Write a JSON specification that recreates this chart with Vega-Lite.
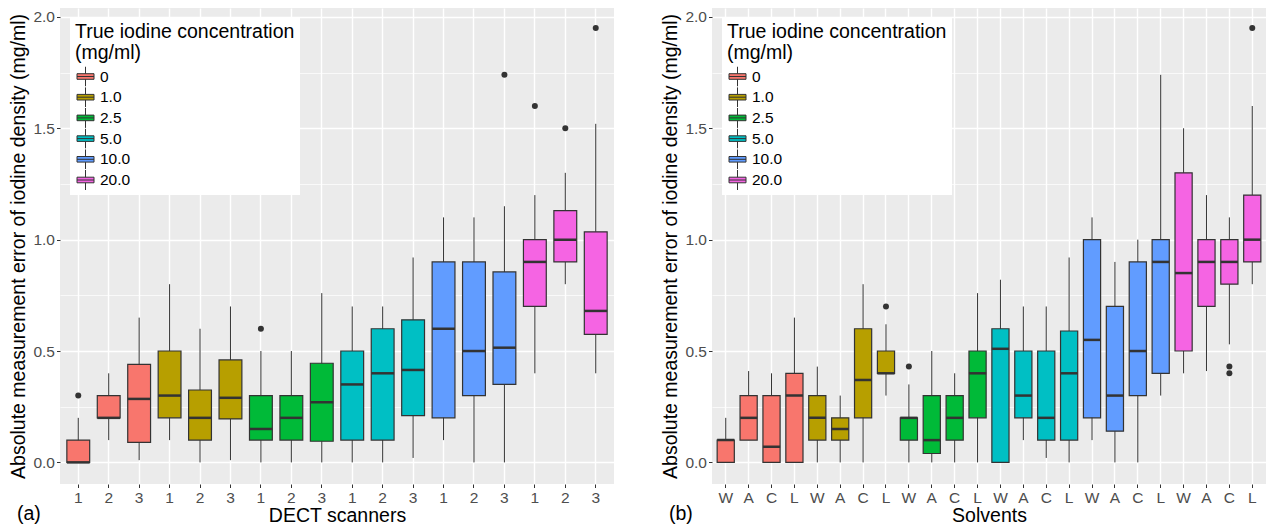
{
  "$schema": "https://vega.github.io/schema/vega-lite/v6.json",
  "padding": {"left": 8, "top": 8, "right": 6, "bottom": 0},
  "background": "#FFFFFF",
  "config": {
    "font": "Liberation Sans",
    "view": {"fill": "#EBEBEB", "stroke": null},
    "axis": {
      "domain": false,
      "labelFontSize": 15.5,
      "labelColor": "#4D4D4D",
      "labelPadding": 2,
      "tickColor": "#333333",
      "tickSize": 3.5,
      "tickWidth": 1,
      "titleFontSize": 19.5,
      "titleFontWeight": "normal",
      "titleColor": "#000000",
      "gridColor": "#FFFFFF"
    },
    "legend": {
      "orient": "top-left", "offset": 10, "fillColor": "#FFFFFF", "padding": 5,
      "titleFontSize": 19.5, "titleFontWeight": "normal", "titleColor": "#000000", "titleLineHeight": 21, "titlePadding": 3, "titleLimit": 400,
      "labelFontSize": 15.5, "labelColor": "#000000", "labelOffset": 4,
      "symbolSize": 400, "symbolStrokeColor": "#333333", "symbolStrokeWidth": 1, "symbolOpacity": 1,
      "clipHeight": 20, "rowPadding": 0.7
    },
    "title": {"fontSize": 19.5, "fontWeight": "normal", "color": "#000000"},
    "concat": {"spacing": 46}
  },
  "datasets": {
    "scanners": [
      {"box": "0-1", "conc": "0", "lo": 0, "q1": 0, "med": 0, "q3": 0.1, "hi": 0.2, "out1": 0.3, "out2": null},
      {"box": "0-2", "conc": "0", "lo": 0.1, "q1": 0.2, "med": 0.2, "q3": 0.3, "hi": 0.4, "out1": null, "out2": null},
      {"box": "0-3", "conc": "0", "lo": 0.01, "q1": 0.09, "med": 0.285, "q3": 0.44, "hi": 0.65, "out1": null, "out2": null},
      {"box": "1.0-1", "conc": "1.0", "lo": 0.1, "q1": 0.2, "med": 0.3, "q3": 0.5, "hi": 0.8, "out1": null, "out2": null},
      {"box": "1.0-2", "conc": "1.0", "lo": 0, "q1": 0.1, "med": 0.2, "q3": 0.325, "hi": 0.6, "out1": null, "out2": null},
      {"box": "1.0-3", "conc": "1.0", "lo": 0.01, "q1": 0.195, "med": 0.29, "q3": 0.46, "hi": 0.7, "out1": null, "out2": null},
      {"box": "2.5-1", "conc": "2.5", "lo": 0, "q1": 0.1, "med": 0.15, "q3": 0.3, "hi": 0.5, "out1": 0.6, "out2": null},
      {"box": "2.5-2", "conc": "2.5", "lo": 0, "q1": 0.1, "med": 0.2, "q3": 0.3, "hi": 0.5, "out1": null, "out2": null},
      {"box": "2.5-3", "conc": "2.5", "lo": 0, "q1": 0.095, "med": 0.27, "q3": 0.445, "hi": 0.76, "out1": null, "out2": null},
      {"box": "5.0-1", "conc": "5.0", "lo": 0, "q1": 0.1, "med": 0.35, "q3": 0.5, "hi": 0.7, "out1": null, "out2": null},
      {"box": "5.0-2", "conc": "5.0", "lo": 0, "q1": 0.1, "med": 0.4, "q3": 0.6, "hi": 0.7, "out1": null, "out2": null},
      {"box": "5.0-3", "conc": "5.0", "lo": 0.02, "q1": 0.21, "med": 0.415, "q3": 0.64, "hi": 0.92, "out1": null, "out2": null},
      {"box": "10.0-1", "conc": "10.0", "lo": 0.1, "q1": 0.2, "med": 0.6, "q3": 0.9, "hi": 1.1, "out1": null, "out2": null},
      {"box": "10.0-2", "conc": "10.0", "lo": 0, "q1": 0.3, "med": 0.5, "q3": 0.9, "hi": 1.1, "out1": null, "out2": null},
      {"box": "10.0-3", "conc": "10.0", "lo": 0, "q1": 0.35, "med": 0.515, "q3": 0.855, "hi": 1.15, "out1": 1.74, "out2": null},
      {"box": "20.0-1", "conc": "20.0", "lo": 0.4, "q1": 0.7, "med": 0.9, "q3": 1.0, "hi": 1.2, "out1": 1.6, "out2": null},
      {"box": "20.0-2", "conc": "20.0", "lo": 0.8, "q1": 0.9, "med": 1.0, "q3": 1.13, "hi": 1.3, "out1": 1.5, "out2": null},
      {"box": "20.0-3", "conc": "20.0", "lo": 0.4, "q1": 0.575, "med": 0.68, "q3": 1.035, "hi": 1.52, "out1": 1.95, "out2": null}
    ],
    "solvents": [
      {"box": "0-W", "conc": "0", "lo": 0, "q1": 0, "med": 0.1, "q3": 0.1, "hi": 0.2, "out1": null, "out2": null},
      {"box": "0-A", "conc": "0", "lo": 0.1, "q1": 0.1, "med": 0.2, "q3": 0.3, "hi": 0.41, "out1": null, "out2": null},
      {"box": "0-C", "conc": "0", "lo": 0, "q1": 0, "med": 0.07, "q3": 0.3, "hi": 0.4, "out1": null, "out2": null},
      {"box": "0-L", "conc": "0", "lo": 0, "q1": 0, "med": 0.3, "q3": 0.4, "hi": 0.65, "out1": null, "out2": null},
      {"box": "1.0-W", "conc": "1.0", "lo": 0, "q1": 0.1, "med": 0.2, "q3": 0.3, "hi": 0.43, "out1": null, "out2": null},
      {"box": "1.0-A", "conc": "1.0", "lo": 0, "q1": 0.1, "med": 0.15, "q3": 0.2, "hi": 0.3, "out1": null, "out2": null},
      {"box": "1.0-C", "conc": "1.0", "lo": 0, "q1": 0.2, "med": 0.37, "q3": 0.6, "hi": 0.8, "out1": null, "out2": null},
      {"box": "1.0-L", "conc": "1.0", "lo": 0.3, "q1": 0.4, "med": 0.4, "q3": 0.5, "hi": 0.62, "out1": 0.7, "out2": null},
      {"box": "2.5-W", "conc": "2.5", "lo": 0, "q1": 0.1, "med": 0.2, "q3": 0.2, "hi": 0.35, "out1": 0.43, "out2": null},
      {"box": "2.5-A", "conc": "2.5", "lo": 0, "q1": 0.04, "med": 0.1, "q3": 0.3, "hi": 0.5, "out1": null, "out2": null},
      {"box": "2.5-C", "conc": "2.5", "lo": 0, "q1": 0.1, "med": 0.2, "q3": 0.3, "hi": 0.4, "out1": null, "out2": null},
      {"box": "2.5-L", "conc": "2.5", "lo": 0, "q1": 0.2, "med": 0.4, "q3": 0.5, "hi": 0.76, "out1": null, "out2": null},
      {"box": "5.0-W", "conc": "5.0", "lo": 0, "q1": 0, "med": 0.51, "q3": 0.6, "hi": 0.82, "out1": null, "out2": null},
      {"box": "5.0-A", "conc": "5.0", "lo": 0.1, "q1": 0.2, "med": 0.3, "q3": 0.5, "hi": 0.7, "out1": null, "out2": null},
      {"box": "5.0-C", "conc": "5.0", "lo": 0.02, "q1": 0.1, "med": 0.2, "q3": 0.5, "hi": 0.7, "out1": null, "out2": null},
      {"box": "5.0-L", "conc": "5.0", "lo": 0, "q1": 0.1, "med": 0.4, "q3": 0.59, "hi": 0.92, "out1": null, "out2": null},
      {"box": "10.0-W", "conc": "10.0", "lo": 0.1, "q1": 0.2, "med": 0.55, "q3": 1.0, "hi": 1.1, "out1": null, "out2": null},
      {"box": "10.0-A", "conc": "10.0", "lo": 0, "q1": 0.14, "med": 0.3, "q3": 0.7, "hi": 0.9, "out1": null, "out2": null},
      {"box": "10.0-C", "conc": "10.0", "lo": 0, "q1": 0.3, "med": 0.5, "q3": 0.9, "hi": 1.0, "out1": null, "out2": null},
      {"box": "10.0-L", "conc": "10.0", "lo": 0.3, "q1": 0.4, "med": 0.9, "q3": 1.0, "hi": 1.74, "out1": null, "out2": null},
      {"box": "20.0-W", "conc": "20.0", "lo": 0.4, "q1": 0.5, "med": 0.85, "q3": 1.3, "hi": 1.5, "out1": null, "out2": null},
      {"box": "20.0-A", "conc": "20.0", "lo": 0.41, "q1": 0.7, "med": 0.9, "q3": 1.0, "hi": 1.2, "out1": null, "out2": null},
      {"box": "20.0-C", "conc": "20.0", "lo": 0.53, "q1": 0.8, "med": 0.9, "q3": 1.0, "hi": 1.1, "out1": 0.43, "out2": 0.4},
      {"box": "20.0-L", "conc": "20.0", "lo": 0.8, "q1": 0.9, "med": 1.0, "q3": 1.2, "hi": 1.6, "out1": 1.95, "out2": null}
    ]
  },
  "resolve": {"scale": {"color": "independent"}, "legend": {"color": "independent"}},
  "hconcat": [
    {
      "width": 554,
      "height": 476,
      "data": {"name": "scanners"},
      "title": {"text": "(a)", "orient": "bottom", "anchor": "start", "frame": "group", "dx": -43, "dy": -23.5},
      "encoding": {
        "x": {
          "field": "box", "type": "nominal", "sort": null,
          "scale": {"paddingInner": 0, "paddingOuter": 0.1},
          "axis": {"title": "DECT scanners", "labelExpr": "split(datum.label, '-')[1]", "labelAngle": 0, "labelPadding": 3, "bandPosition": 0.5, "grid": true, "gridWidth": 1.4, "titlePadding": 0}
        }
      },
      "layer": [
        {
          "mark": {"type": "rule", "color": "#333333", "strokeWidth": 1},
          "encoding": {
            "y": {
              "field": "lo", "type": "quantitative", "title": "Absolute measurement error of iodine density (mg/ml)",
              "scale": {"domain": [-0.097, 2.04], "nice": false, "zero": false},
              "axis": {
                "values": [0, 0.25, 0.5, 0.75, 1, 1.25, 1.5, 1.75, 2],
                "labelExpr": "datum.value % 0.5 == 0 ? format(datum.value, '.1f') : ''",
                "tickOpacity": {"condition": {"test": "datum.value % 0.5 != 0", "value": 0}, "value": 1},
                "gridWidth": {"condition": {"test": "datum.value % 0.5 != 0", "value": 0.7}, "value": 1.4},
                "titlePadding": 4
              }
            },
            "y2": {"field": "hi"}
          }
        },
        {
          "mark": {"type": "bar", "width": {"band": 0.75}, "stroke": "#333333", "strokeWidth": 1.2},
          "encoding": {
            "y": {"field": "q1", "type": "quantitative", "title": "Absolute measurement error of iodine density (mg/ml)", "scale": {"domain": [-0.097, 2.04], "nice": false, "zero": false}},
            "y2": {"field": "q3"},
            "color": {
              "field": "conc", "type": "nominal",
              "scale": {"domain": ["0", "1.0", "2.5", "5.0", "10.0", "20.0"], "range": ["#F8766D", "#B79F00", "#00BA38", "#00BFC4", "#619CFF", "#F564E3"]},
              "legend": {
                "title": ["True iodine concentration", " (mg/ml)"],
                "symbolType": "M-0.85,-0.28H0.85V0.28H-0.85Z M-0.85,0H0.85 M0,-0.28V-1 M0,0.28V1"
              }
            }
          }
        },
        {
          "mark": {"type": "tick", "color": "#333333", "thickness": 2.5, "size": 22.8, "opacity": 1},
          "encoding": {"y": {"field": "med", "type": "quantitative", "title": "Absolute measurement error of iodine density (mg/ml)", "scale": {"domain": [-0.097, 2.04], "nice": false, "zero": false}}}
        },
        {
          "mark": {"type": "circle", "color": "#333333", "opacity": 1, "size": 36},
          "encoding": {"y": {"field": "out1", "type": "quantitative", "title": "Absolute measurement error of iodine density (mg/ml)", "scale": {"domain": [-0.097, 2.04], "nice": false, "zero": false}}}
        },
        {
          "mark": {"type": "circle", "color": "#333333", "opacity": 1, "size": 36},
          "encoding": {"y": {"field": "out2", "type": "quantitative", "title": "Absolute measurement error of iodine density (mg/ml)", "scale": {"domain": [-0.097, 2.04], "nice": false, "zero": false}}}
        }
      ]
    },
    {
      "width": 554,
      "height": 476,
      "data": {"name": "solvents"},
      "title": {"text": "(b)", "orient": "bottom", "anchor": "start", "frame": "group", "dx": -43, "dy": -23.5},
      "encoding": {
        "x": {
          "field": "box", "type": "nominal", "sort": null,
          "scale": {"paddingInner": 0, "paddingOuter": 0.1},
          "axis": {"title": "Solvents", "labelExpr": "split(datum.label, '-')[1]", "labelAngle": 0, "labelPadding": 3, "bandPosition": 0.5, "grid": true, "gridWidth": 1.4, "titlePadding": 0}
        }
      },
      "layer": [
        {
          "mark": {"type": "rule", "color": "#333333", "strokeWidth": 1},
          "encoding": {
            "y": {
              "field": "lo", "type": "quantitative", "title": "Absolute measurement error of iodine density (mg/ml)",
              "scale": {"domain": [-0.097, 2.04], "nice": false, "zero": false},
              "axis": {
                "values": [0, 0.25, 0.5, 0.75, 1, 1.25, 1.5, 1.75, 2],
                "labelExpr": "datum.value % 0.5 == 0 ? format(datum.value, '.1f') : ''",
                "tickOpacity": {"condition": {"test": "datum.value % 0.5 != 0", "value": 0}, "value": 1},
                "gridWidth": {"condition": {"test": "datum.value % 0.5 != 0", "value": 0.7}, "value": 1.4},
                "titlePadding": 4
              }
            },
            "y2": {"field": "hi"}
          }
        },
        {
          "mark": {"type": "bar", "width": {"band": 0.75}, "stroke": "#333333", "strokeWidth": 1.2},
          "encoding": {
            "y": {"field": "q1", "type": "quantitative", "title": "Absolute measurement error of iodine density (mg/ml)", "scale": {"domain": [-0.097, 2.04], "nice": false, "zero": false}},
            "y2": {"field": "q3"},
            "color": {
              "field": "conc", "type": "nominal",
              "scale": {"domain": ["0", "1.0", "2.5", "5.0", "10.0", "20.0"], "range": ["#F8766D", "#B79F00", "#00BA38", "#00BFC4", "#619CFF", "#F564E3"]},
              "legend": {
                "title": ["True iodine concentration", " (mg/ml)"],
                "symbolType": "M-0.85,-0.28H0.85V0.28H-0.85Z M-0.85,0H0.85 M0,-0.28V-1 M0,0.28V1"
              }
            }
          }
        },
        {
          "mark": {"type": "tick", "color": "#333333", "thickness": 2.5, "size": 17.2, "opacity": 1},
          "encoding": {"y": {"field": "med", "type": "quantitative", "title": "Absolute measurement error of iodine density (mg/ml)", "scale": {"domain": [-0.097, 2.04], "nice": false, "zero": false}}}
        },
        {
          "mark": {"type": "circle", "color": "#333333", "opacity": 1, "size": 36},
          "encoding": {"y": {"field": "out1", "type": "quantitative", "title": "Absolute measurement error of iodine density (mg/ml)", "scale": {"domain": [-0.097, 2.04], "nice": false, "zero": false}}}
        },
        {
          "mark": {"type": "circle", "color": "#333333", "opacity": 1, "size": 36},
          "encoding": {"y": {"field": "out2", "type": "quantitative", "title": "Absolute measurement error of iodine density (mg/ml)", "scale": {"domain": [-0.097, 2.04], "nice": false, "zero": false}}}
        }
      ]
    }
  ]
}
